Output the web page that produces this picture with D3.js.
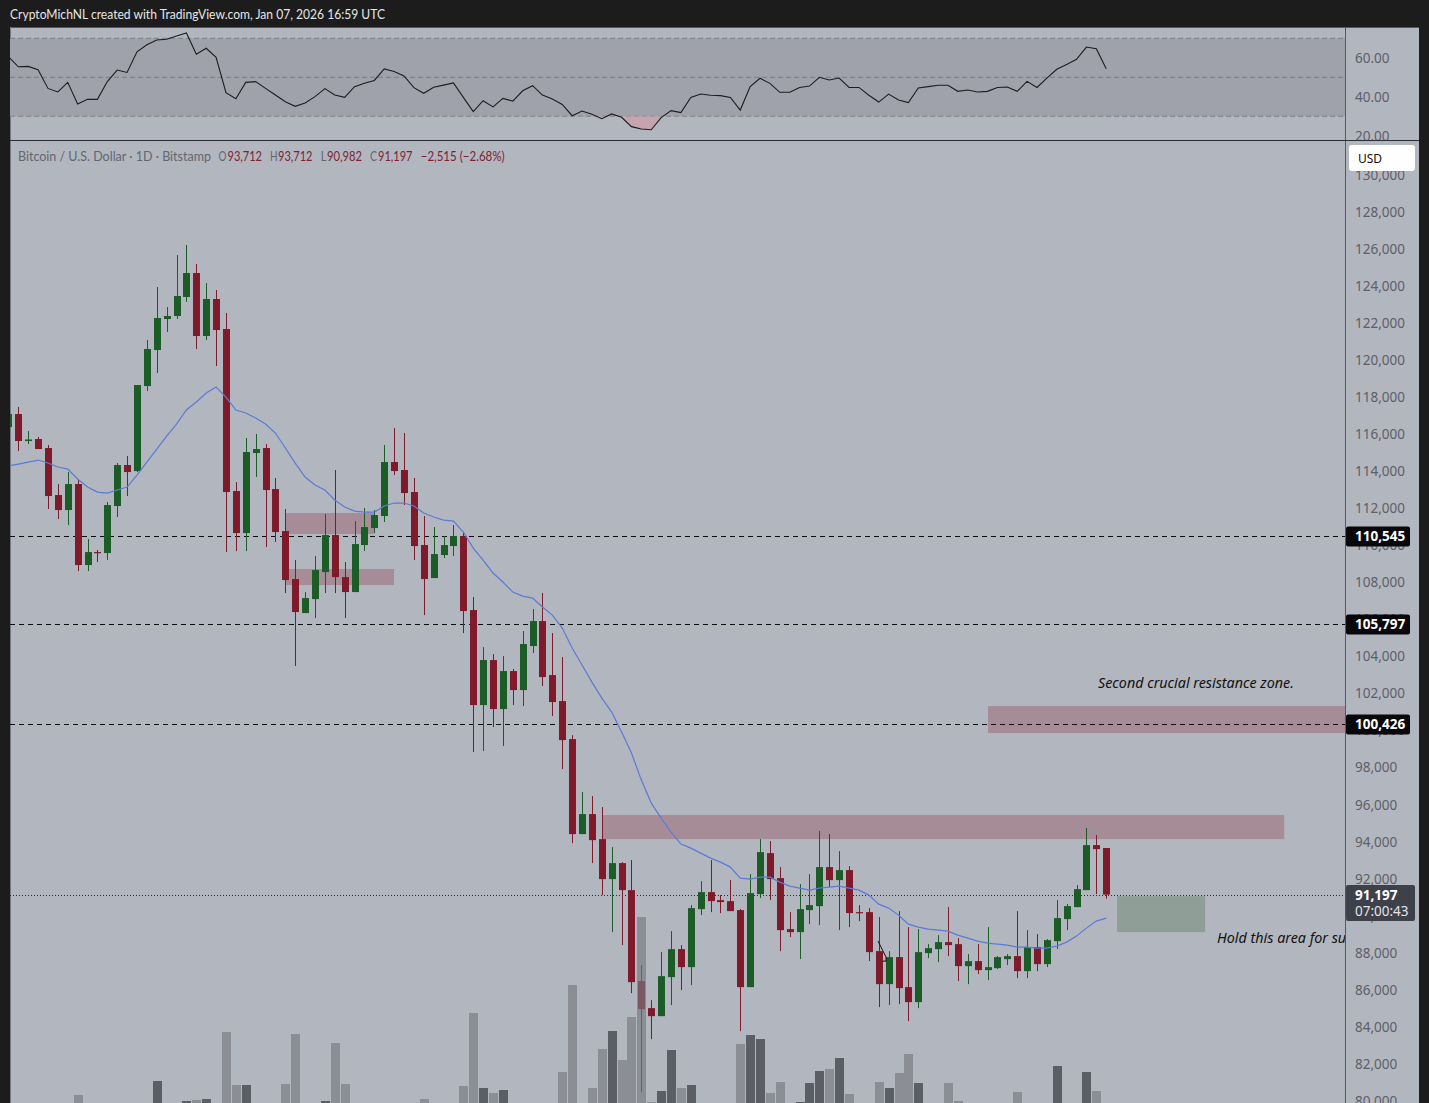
<!DOCTYPE html>
<html>
<head>
<meta charset="utf-8">
<script src="https://cdn.jsdelivr.net/npm/d3@7"></script>
<style>
  html, body { margin: 0; padding: 0; background: #1c1c1c; overflow: hidden; }
  svg { display: block; }
  text { font-family: "Noto Sans", sans-serif; }
  text.head { font-family: Lato, sans-serif; }
</style>
</head>
<body>
<svg id="chart" width="1429" height="1103"></svg>
<script>
// daily candles
var opens = [116442,117144,115686,115794,115308,112770,111960,113364,108990,109692,
  109638,112176,114390,114066,118656,120600,122274,122436,123462,124758,
  121356,123354,121734,112986,110718,115038,115308,113094,110826,108234,
  106398,107154,108612,110610,108342,107532,110070,110988,111636,114552,
  114120,112932,110070,108288,109530,110016,110556,106560,101430,103860,
  101214,103266,102240,104616,105966,103050,101646,99594,94464,95544,
  94194,92034,92898,91440,86526,85068,84636,86742,88254,87282,
  90414,91332,90900,90846,90360,86202,91224,93438,92088,89334,
  89172,90360,90576,92682,91980,92520,90252,90252,88146,86364,
  87822,86202,85392,88038,88254,88632,88524,87336,87606,87120,
  87228,87714,87876,87066,88362,87444,88686,89874,90522,91440,
  93870,93712];
var highs = [117360,117522,116226,115902,115470,113364,114012,113580,110394,109800,
  112392,114498,114876,118710,121140,124002,122922,125730,126270,125244,
  124218,123840,122598,113472,115848,116064,115524,113688,112014,109260,
  107532,109476,111744,114120,109152,111366,112068,111960,115470,116388,
  116118,113688,111636,111042,110556,111150,110718,107262,104562,104184,
  104076,103374,105426,106614,107478,105318,104022,99810,96732,96516,
  95922,93762,92952,93060,87390,85500,88092,89226,88470,90630,
  91926,93060,91170,91980,90414,92304,94194,94086,92682,90252,
  91764,92304,94626,94464,93546,92736,90630,90468,89982,88146,
  90306,89442,89334,88524,89010,90522,88848,87984,88524,89442,
  87876,87984,90306,89280,89064,88794,90900,90684,91710,94788,
  94410,93712];
var lows = [116280,115146,115524,115254,112014,111474,111150,108666,108666,109152,
  109260,111582,112716,114012,118386,119358,121572,122274,123192,120654,
  121140,119736,109692,109746,109746,113742,109962,110232,107478,103536,
  106398,106128,107478,107478,106128,107532,109746,110718,111312,113850,
  112230,109260,106290,108288,109368,109476,105318,98892,98946,100242,
  99216,101430,101376,104238,102456,100836,97974,93978,94464,92898,
  91170,89172,88470,85878,80532,83394,84636,85230,86040,86310,
  90090,90252,90198,90306,83826,86202,91008,90900,88146,88902,
  87714,89604,89550,91602,89280,89442,89766,87606,85122,85230,
  85284,84366,85068,87768,87552,87876,86526,86364,86904,86580,
  87174,87390,86688,86688,87066,87282,88254,89280,90522,91440,
  91224,90982];
var closes = [117144,115686,115770,115254,112716,111960,113364,108990,109692,109638,
  112230,114390,114012,118710,120654,122328,122436,123516,124758,121356,
  123354,121680,112932,110718,115092,115254,113040,110772,108180,106452,
  107208,108720,110610,108342,107532,110124,111042,111690,114552,114066,
  112878,110016,108234,109584,110070,110556,106506,101430,103860,101214,
  103266,102240,104724,105966,102942,101592,99540,94464,95544,94140,
  92034,92898,91440,86472,85014,84636,86796,88254,87282,90468,
  91332,90846,90792,90306,86202,91278,93492,92034,89280,89172,
  90414,90630,92682,91980,92520,90198,90198,88092,86364,87822,
  86148,85392,88092,88308,88632,88470,87336,87606,87120,87282,
  87822,87876,87066,88362,87444,88740,89928,90576,91494,93870,
  93654,91197];

var ema20 = [114336,114444,114552,114660,114498,114282,114174,113634,113202,112932,
  112878,113040,113202,113850,114552,115254,115956,116604,117360,117792,
  118278,118602,118062,117360,117198,116928,116604,116118,115308,114498,
  113742,113310,113040,112500,112122,111906,111852,111852,112176,112338,
  112338,112176,111798,111582,111420,111366,110772,109908,109260,108558,
  108072,107532,107316,107208,106722,106290,105588,104508,103590,102672,
  101808,101052,99972,98838,97380,96138,95328,94572,93924,93708,
  93438,93168,92952,92682,92088,92034,92142,92142,91872,91656,
  91548,91440,91548,91602,91656,91548,91440,91170,90684,90468,
  90090,89604,89442,89334,89280,89226,89010,88848,88686,88578,
  88524,88470,88362,88362,88308,88308,88416,88632,88956,89388,
  89766,89928];

var rsi = [60.6,55.4,55.6,53.9,44.3,42.5,47.4,36.3,38.7,38.7,
  47.8,53.7,52.5,63.1,66.7,69.1,69.5,71.2,72.7,61.8,
  64.9,60.2,42.1,39.0,47.4,47.8,44.3,40.9,37.5,35.1,
  36.8,40.1,44.2,40.9,39.7,45.2,46.9,48.4,54.3,53.0,
  50.7,44.7,41.8,44.9,46.0,47.1,39.7,32.4,38.0,34.8,
  39.2,37.8,43.1,45.7,40.9,38.9,36.1,30.3,32.7,31.0,
  28.8,31.2,29.5,24.7,23.5,23.1,29.3,32.9,31.9,39.7,
  41.4,40.8,40.6,39.7,33.2,45.2,49.5,46.9,42.3,42.3,
  44.8,45.5,50.0,48.6,49.6,44.8,44.8,40.8,37.3,41.4,
  38.4,37.0,44.5,45.2,45.9,45.9,42.8,43.5,42.5,42.8,
  44.8,45.0,42.8,47.9,44.8,49.6,54.1,56.6,59.2,65.5,
  64.7,54.4];

var volumes = [0,0,0,0,0,0,0,80,0,0,
  0,0,0,0,0,220,0,0,20,30,
  40,0,710,180,180,0,0,0,190,690,
  0,0,20,600,190,0,0,0,0,0,
  0,0,40,0,0,0,170,900,150,100,
  130,0,0,0,0,0,310,1180,0,150,
  540,720,430,860,1860,10,120,530,150,180,
  0,0,0,0,590,680,640,100,210,0,
  10,200,320,340,450,90,0,0,210,150,
  300,490,200,0,0,200,20,0,0,0,
  0,0,110,0,0,0,370,0,0,310,
  120,0];

// zones drawn on the chart: bar index from/to, price from/to
var zoneStart = [28.07,28.07,60.12,99.05];
var zoneEnd = [36.97,38.99,129,135.2];
var zoneTop = [111798,108774,95490,101376];
var zoneBottom = [110664,107910,94194,99918];
var holdZone = {start: 112.1, end: 121, top: 91116, bottom: 89172};

var levels = [110545,105797,100426];
var lastPrice = 91197;
var priceTicks = d3.range(80000,132000,2000);
var rsiTicks = [60,40,20];
var rsiBands = [70,50,30];

var legendTexts = ["Bitcoin / U.S. Dollar \u00b7 1D \u00b7 Bitstamp","O","93,712","H","93,712","L","90,982","C","91,197","\u22122,515 (\u22122.68%)"];
var legendFrom = [18,218.6,227.5,270,278,320.7,327,370,378,420.7];
var legendTo = [211,226.5,262,277.5,312.5,326.3,362,377,412.5,504.6];
var gray = "#63666e", maroon = "#7c2334";
var legendColors = [gray,gray,maroon,gray,maroon,gray,maroon,gray,maroon,maroon];

var panelBg = "#b2b6bf", frame = "#1c1c1c", up = "#1c5d27", down = "#7e1a29";
var axisX = 1345, rightEdge = 1419, leftEdge = 10;

var svg = d3.select("#chart");
var x = d3.scaleLinear().domain([0,111]).range([8.4,1106.2]);
var y = d3.scaleLinear().domain([80000,126000]).range([1102,250]);
var yRsi = d3.scaleLinear().domain([30,70]).range([116.3,38.3]);
var yVol = d3.scaleLinear().domain([0,1000]).range([1103,1003]);
var bars = d3.range(opens.length);
var px = function(i) { return Math.round(x(i)); };

// background and frame
svg.append("rect").attr("width",1429).attr("height",1103).attr("fill",frame);
svg.append("rect").attr("x",leftEdge).attr("y",27).attr("width",rightEdge-leftEdge).attr("height",1076).attr("fill",panelBg);
svg.append("line").attr("x1",leftEdge).attr("x2",rightEdge).attr("y1",27.5).attr("y2",27.5).attr("stroke","#55585e");
svg.append("line").attr("x1",leftEdge+.5).attr("x2",leftEdge+.5).attr("y1",27).attr("y2",1103).attr("stroke","#77797f");

var defs = svg.append("defs");
defs.append("clipPath").attr("id","mainClip").append("rect")
  .attr("x",leftEdge).attr("y",141).attr("width",axisX-leftEdge).attr("height",962);
defs.append("clipPath").attr("id","rsiClip").append("rect")
  .attr("x",leftEdge).attr("y",28).attr("width",axisX-leftEdge).attr("height",112);
defs.append("clipPath").attr("id","below30").append("rect")
  .attr("x",leftEdge).attr("y",yRsi(30)).attr("width",axisX-leftEdge).attr("height",40);

////////////////
// RSI panel  //
////////////////
var rsiG = svg.append("g").attr("clip-path","url(#rsiClip)");
rsiG.append("rect").attr("x",leftEdge).attr("width",axisX-leftEdge)
  .attr("y",yRsi(70)).attr("height",yRsi(30)-yRsi(70)).attr("fill","#9fa2ab");
rsiG.selectAll("line.band").data(rsiBands).enter().append("line").attr("class","band")
  .attr("x1",leftEdge).attr("x2",axisX).attr("y1",yRsi).attr("y2",yRsi)
  .attr("stroke","#7a7d84").attr("stroke-dasharray","5,3");
rsiG.append("g").attr("clip-path","url(#below30)").append("path").datum(bars)
  .attr("fill","#c6a3ad")
  .attr("d",d3.area().x(x).y0(yRsi(30)).y1(function(i) { return yRsi(rsi[i]); }));
rsiG.append("path").datum(bars).attr("fill","none").attr("stroke","#1b1d21").attr("stroke-width",1.1)
  .attr("d",d3.line().x(x).y(function(i) { return yRsi(rsi[i]); }));

var rsiAxis = d3.axisRight(yRsi).tickValues(rsiTicks).tickSize(0).tickPadding(0)
  .tickFormat(d3.format(".2f"));
var rsiAxisClip = defs.append("clipPath").attr("id","rsiAxisClip").append("rect")
  .attr("x",axisX).attr("y",28).attr("width",rightEdge-axisX).attr("height",112);
svg.append("g").attr("clip-path","url(#rsiAxisClip)").append("g")
  .attr("transform","translate("+(axisX+10)+",0)").call(rsiAxis)
  .call(function(g) { g.select(".domain").remove(); })
  .selectAll("text").attr("font-size",13.5).attr("fill","#5d6067").attr("dy","0.32em");

//////////////////
// Main pane    //
//////////////////
var main = svg.append("g").attr("clip-path","url(#mainClip)");

main.selectAll("rect.zone").data(zoneStart).enter().append("rect").attr("class","zone")
  .attr("x",function(d) { return x(d); })
  .attr("width",function(d,i) { return x(zoneEnd[i])-x(d); })
  .attr("y",function(d,i) { return y(zoneTop[i]); })
  .attr("height",function(d,i) { return y(zoneBottom[i])-y(zoneTop[i]); })
  .attr("fill","#a68c97");
main.append("rect").attr("x",x(holdZone.start)).attr("width",x(holdZone.end)-x(holdZone.start))
  .attr("y",y(holdZone.top)).attr("height",y(holdZone.bottom)-y(holdZone.top)).attr("fill","#8f9f98");

main.selectAll("line.level").data(levels).enter().append("line").attr("class","level")
  .attr("x1",leftEdge).attr("x2",axisX)
  .attr("y1",function(d) { return Math.round(y(d))+.5; }).attr("y2",function(d) { return Math.round(y(d))+.5; })
  .attr("stroke","#0c0c0e").attr("stroke-dasharray","5,4");
main.append("line").attr("x1",leftEdge).attr("x2",axisX)
  .attr("y1",Math.round(y(lastPrice))+.5).attr("y2",Math.round(y(lastPrice))+.5)
  .attr("stroke","#2a2c30").attr("stroke-dasharray","1,2");

main.selectAll("line.wick").data(bars).enter().append("line").attr("class","wick")
  .attr("x1",px).attr("x2",px)
  .attr("y1",function(i) { return y(highs[i]); }).attr("y2",function(i) { return y(lows[i]); })
  .attr("stroke",function(i) { return closes[i] >= opens[i] ? up : down; })
  .attr("transform","translate(.5,0)");
main.selectAll("rect.body").data(bars).enter().append("rect").attr("class","body")
  .attr("x",function(i) { return px(i)-3; }).attr("width",7)
  .attr("y",function(i) { return y(Math.max(opens[i],closes[i])); })
  .attr("height",function(i) { return Math.max(1.2,Math.abs(y(opens[i])-y(closes[i]))); })
  .attr("fill",function(i) { return closes[i] >= opens[i] ? up : down; });

main.append("path").datum(bars).attr("fill","none").attr("stroke","#5b7bd6").attr("stroke-width",1.2)
  .attr("d",d3.line().x(x).y(function(i) { return y(ema20[i]); }));

// volume sits on top of the candles, see bar 64
main.selectAll("rect.vol").data(bars.filter(function(i) { return volumes[i] > 0; })).enter()
  .append("rect").attr("class","vol")
  .attr("x",function(i) { return px(i)-4; }).attr("width",9)
  .attr("y",function(i) { return yVol(volumes[i]); })
  .attr("height",function(i) { return yVol(0)-yVol(volumes[i]); })
  .attr("fill",function(i) { return closes[i] >= opens[i] ? "rgb(44,47,52)" : "rgb(120,122,128)"; })
  .attr("fill-opacity",.65);

// small drawing left on the chart near bar 88
main.append("path")
  .attr("d",d3.line()([[x(87.93),y(88686)],[x(88.74),y(87822)],[x(88.74),y(87606)],[x(88.4),y(87606)]]))
  .attr("fill","none").attr("stroke","#111");

main.append("text").attr("x",x(99.05)+110).attr("y",y(102368)).attr("font-size",14.3)
  .attr("font-style","italic").attr("fill","#111").text("Second crucial resistance zone.");
main.append("text").attr("x",x(121.1)+11).attr("y",y(88600)).attr("font-size",14.3)
  .attr("font-style","italic").attr("fill","#111").text("Hold this area for support.");

//////////////////
// Price axis   //
//////////////////
var priceAxisClip = defs.append("clipPath").attr("id","priceAxisClip").append("rect")
  .attr("x",axisX).attr("y",141).attr("width",rightEdge-axisX).attr("height",962);
svg.append("g").attr("clip-path","url(#priceAxisClip)").append("g")
  .attr("transform","translate("+(axisX+10)+",0)")
  .call(d3.axisRight(y).tickValues(priceTicks).tickSize(0).tickPadding(0).tickFormat(d3.format(",")))
  .call(function(g) { g.select(".domain").remove(); })
  .selectAll("text").attr("font-size",13.5).attr("fill","#5d6067").attr("dy","0.25em");

svg.append("line").attr("x1",axisX+.5).attr("x2",axisX+.5).attr("y1",27).attr("y2",1103).attr("stroke","#55585e");
svg.append("line").attr("x1",leftEdge).attr("x2",rightEdge).attr("y1",140.5).attr("y2",140.5).attr("stroke","#2b2e35");

levels.forEach(function(d) {
  var g = svg.append("g").attr("transform","translate("+(axisX+1)+","+(Math.round(y(d))+.5)+")");
  g.append("rect").attr("y",-10).attr("width",64).attr("height",20).attr("rx",2).attr("fill","#08080a");
  g.append("text").attr("x",9).attr("dy","0.35em").attr("font-size",13.5).attr("font-weight",700)
    .attr("fill","#fff").text(d3.format(",")(d));
});

var lastY = Math.round(y(lastPrice));
svg.append("rect").attr("x",axisX+1).attr("y",lastY-10).attr("width",69).attr("height",36).attr("rx",2).attr("fill","#3e414a");
svg.append("text").attr("x",axisX+10).attr("y",lastY+5).attr("font-size",13.5).attr("font-weight",700)
  .attr("fill","#fff").text(d3.format(",")(lastPrice));
svg.append("text").attr("x",axisX+10).attr("y",lastY+21).attr("font-size",13.5)
  .attr("fill","#e4e5e8").text("07:00:43");

svg.append("rect").attr("x",1349).attr("y",145).attr("width",66).attr("height",26).attr("rx",3).attr("fill","#fff");
svg.append("text").attr("x",1358).attr("y",163).attr("font-size",12).attr("fill","#111").text("USD");

//////////////////
// Header text  //
//////////////////
svg.append("text").attr("class","head").attr("x",10).attr("y",19).attr("font-size",13).attr("fill","#e6e6e6")
  .attr("textLength",375).attr("lengthAdjust","spacingAndGlyphs")
  .text("CryptoMichNL created with TradingView.com, Jan 07, 2026 16:59 UTC");

svg.selectAll("text.legend").data(legendTexts).enter().append("text").attr("class","head legend")
  .attr("x",function(d,i) { return legendFrom[i]; }).attr("y",161).attr("font-size",13)
  .attr("fill",function(d,i) { return legendColors[i]; })
  .attr("textLength",function(d,i) { return legendTo[i]-legendFrom[i]; })
  .attr("lengthAdjust","spacingAndGlyphs")
  .text(function(d) { return d; });
</script>
</body>
</html>
